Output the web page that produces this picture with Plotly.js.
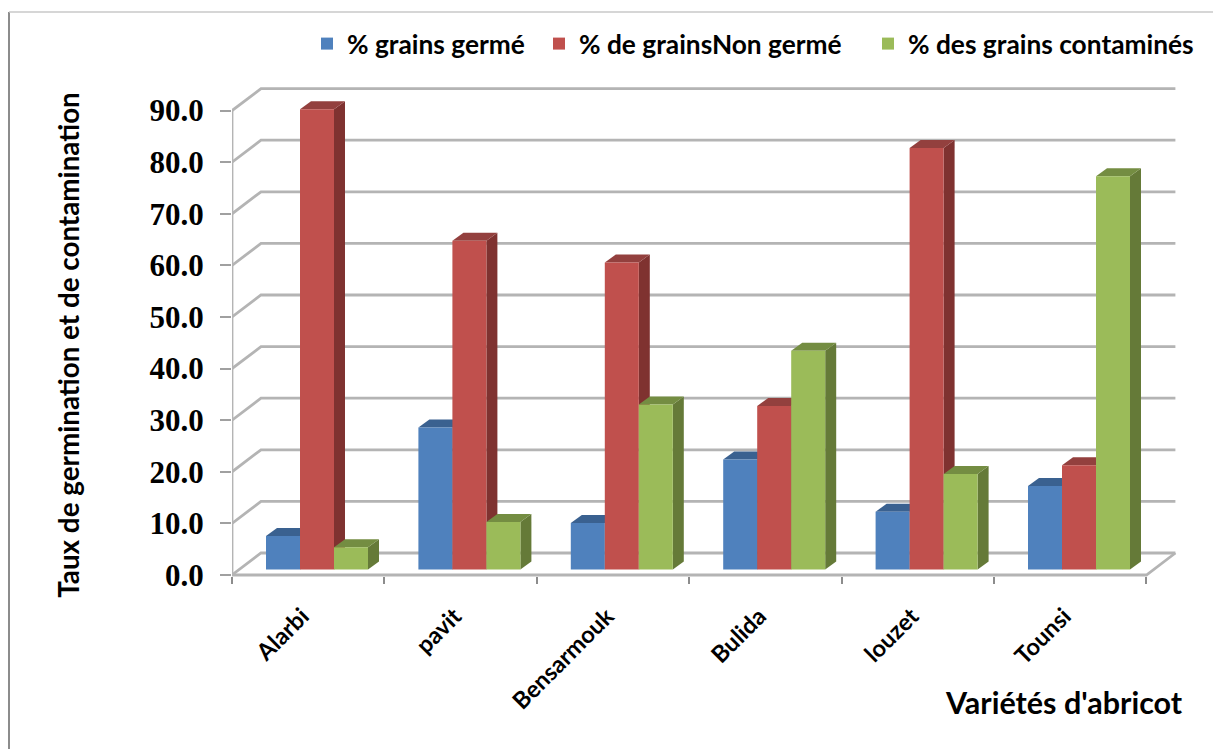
<!DOCTYPE html>
<html><head><meta charset="utf-8">
<script src="https://cdn.plot.ly/plotly-3.0.1.min.js"></script>
<style>html,body{margin:0;padding:0;background:#fff;overflow:hidden}</style>
</head><body><div id="chart" style="width:1213px;height:749px"></div>
<script>
const categories = ["Alarbi","pavit","Bensarmouk","Bulida","louzet","Tounsi"];
const germe = [6.5,27.5,9.0,21.3,11.2,16.2];
const nonGerme = [89.2,63.7,59.5,31.7,81.7,20.2];
const contamine = [4.3,9.2,32.0,42.4,18.5,76.2];
const seriesNames = ["% grains germé","% de grainsNon germé","% des grains contaminés"];
const frontColors = ["#4F81BD","#C0504D","#9BBB59"];
const topColors = ["#3A6190","#93403E","#748D42"];
const sideColors = ["#345680","#7F3230","#657A38"];
const yTicks = [0,10,20,30,40,50,60,70,80,90];
const legendTextLeft = [307,539,868];
const values = [germe,nonGerme,contamine];

// Pixel frame of the oblique projection
const W=1213,H=749,L=232,R=1200,T=70,B=620;
const pxX=152.4, pxY=5.16, y0px=575;
const xRange=[0,(R-L)/pxX];
const yRange=[(y0px-B)/pxY,(y0px-T)/pxY];
const wallDx=29/pxX, wallDy=22/pxY;     // wall depth
const barDx=11/pxX, barDy=8/pxY;        // bar depth
const lift=5.5/pxY;                     // bars stand a little behind the front edge
const barW=34/pxX, groupC=85/pxX;       // bar width, group centre inside a category
const nCat=categories.length;

const traces=[];
// walls and floor
const gx=[],gy=[];
yTicks.forEach(v=>{gx.push(0,wallDx,nCat+wallDx,null);gy.push(v,v+wallDy,v+wallDy,null);});
traces.push({type:'scatter',mode:'lines',x:gx,y:gy,line:{color:'#B4B4B4',width:2.8},showlegend:false,hoverinfo:'skip',cliponaxis:false});
traces.push({type:'scatter',mode:'lines',
  x:[0,0,null,0,nCat,nCat+wallDx],y:[yTicks[yTicks.length-1],0,null,0,0,wallDy],
  line:{color:'#B4B4B4',width:2.8},showlegend:false,hoverinfo:'skip',cliponaxis:false});
// depth faces (top and side), series by series so nearer ones cover farther ones
values.forEach((vals,s)=>{
  vals.forEach((v,i)=>{
    const x0=i+groupC+(s-1.5)*barW, x1=x0+barW, y=v+lift, b=lift;
    traces.push({type:'scatter',mode:'lines',fill:'toself',fillcolor:sideColors[s],line:{width:0,color:sideColors[s]},
      x:[x1,x1+barDx,x1+barDx,x1,x1],y:[b,b+barDy,y+barDy,y,b],showlegend:false,hoverinfo:'skip'});
    traces.push({type:'scatter',mode:'lines',fill:'toself',fillcolor:topColors[s],line:{width:0,color:topColors[s]},
      x:[x0,x1,x1+barDx,x0+barDx,x0],y:[y,y,y+barDy,y+barDy,y],showlegend:false,hoverinfo:'skip'});
  });
});
// front faces, one legend per series so each entry can sit where the reference has it
values.forEach((vals,s)=>{
  traces.push({type:'bar',name:seriesNames[s],x:categories.map((c,i)=>i+groupC),y:vals,yaxis:'y2',
    legend:s===0?'legend':'legend'+(s+1),
    text:categories,marker:{color:frontColors[s],line:{width:0}},textposition:'none',
    hovertemplate:'%{text}<br>%{y:.1f}<extra>'+seriesNames[s]+'</extra>'});
});
const legendOf=s=>({orientation:'h',xref:'paper',yref:'paper',x:(legendTextLeft[s]-L)/(R-L),xanchor:'left',
  y:1+(T-20)/(B-T),yanchor:'top',bgcolor:'rgba(0,0,0,0)',font:{family:'Lato',size:26.3,weight:700,color:'#000'}});

const layout={
  width:W,height:H,paper_bgcolor:'#fff',plot_bgcolor:'rgba(0,0,0,0)',
  margin:{l:L,r:W-R,t:T,b:H-B,autoexpand:false},
  barmode:'group',bargap:1-3*barW,bargroupgap:0,
  font:{family:'Lato',color:'#000'},
  xaxis:{range:xRange,anchor:'free',position:(B-y0px-1)/(B-T),showgrid:false,zeroline:false,showline:false,
    tickmode:'array',tickvals:categories.map((c,i)=>i+0.5),ticktext:categories,ticks:'',tickangle:-45,
    ticklabelstandoff:21,ticklabelshift:-6,tickfont:{family:'Lato',size:23.5,weight:700,color:'#000'},
    minor:{ticks:'outside',ticklen:7,tickwidth:2,tickcolor:'#8C8C8C',tickmode:'array',
      tickvals:categories.map((c,i)=>i).concat([nCat]),showgrid:false}},
  yaxis:{range:yRange,showgrid:false,zeroline:false,showline:false,tickmode:'array',tickvals:yTicks,
    ticktext:yTicks.map(v=>v.toFixed(1)),ticks:'outside',ticklen:11,tickwidth:2,tickcolor:'#A0A0A0',
    ticklabelstandoff:10,tickfont:{family:'Liberation Serif',size:31,weight:700,color:'#000'},
    title:{text:'Taux de germination et de contamination',standoff:61,font:{family:'Lato',size:27.8,weight:700,color:'#000'}}},
  yaxis2:{range:[yRange[0]-lift,yRange[1]-lift],overlaying:'y',visible:false,fixedrange:true},
  showlegend:true,
  legend:legendOf(0),legend2:legendOf(1),legend3:legendOf(2),
  annotations:[{xref:'paper',yref:'paper',x:(1064-L)/(R-L),y:(B-702)/(B-T),showarrow:false,xanchor:'center',yanchor:'middle',
    text:"Variétés d'abricot",font:{family:'Lato',size:30.5,weight:700,color:'#000'}}],
  shapes:[
    {type:'line',xref:'paper',yref:'paper',x0:(9-L)/(R-L),x1:(9-L)/(R-L),y0:(B-12)/(B-T),y1:(B-749)/(B-T),line:{color:'#8C8C8C',width:2}},
    {type:'line',xref:'paper',yref:'paper',x0:(9-L)/(R-L),x1:(1213-L)/(R-L),y0:(B-12)/(B-T),y1:(B-12)/(B-T),line:{color:'#C8C8C8',width:1.5}}
  ]
};
Plotly.newPlot('chart',traces,layout,{displayModeBar:false});
</script></body></html>
